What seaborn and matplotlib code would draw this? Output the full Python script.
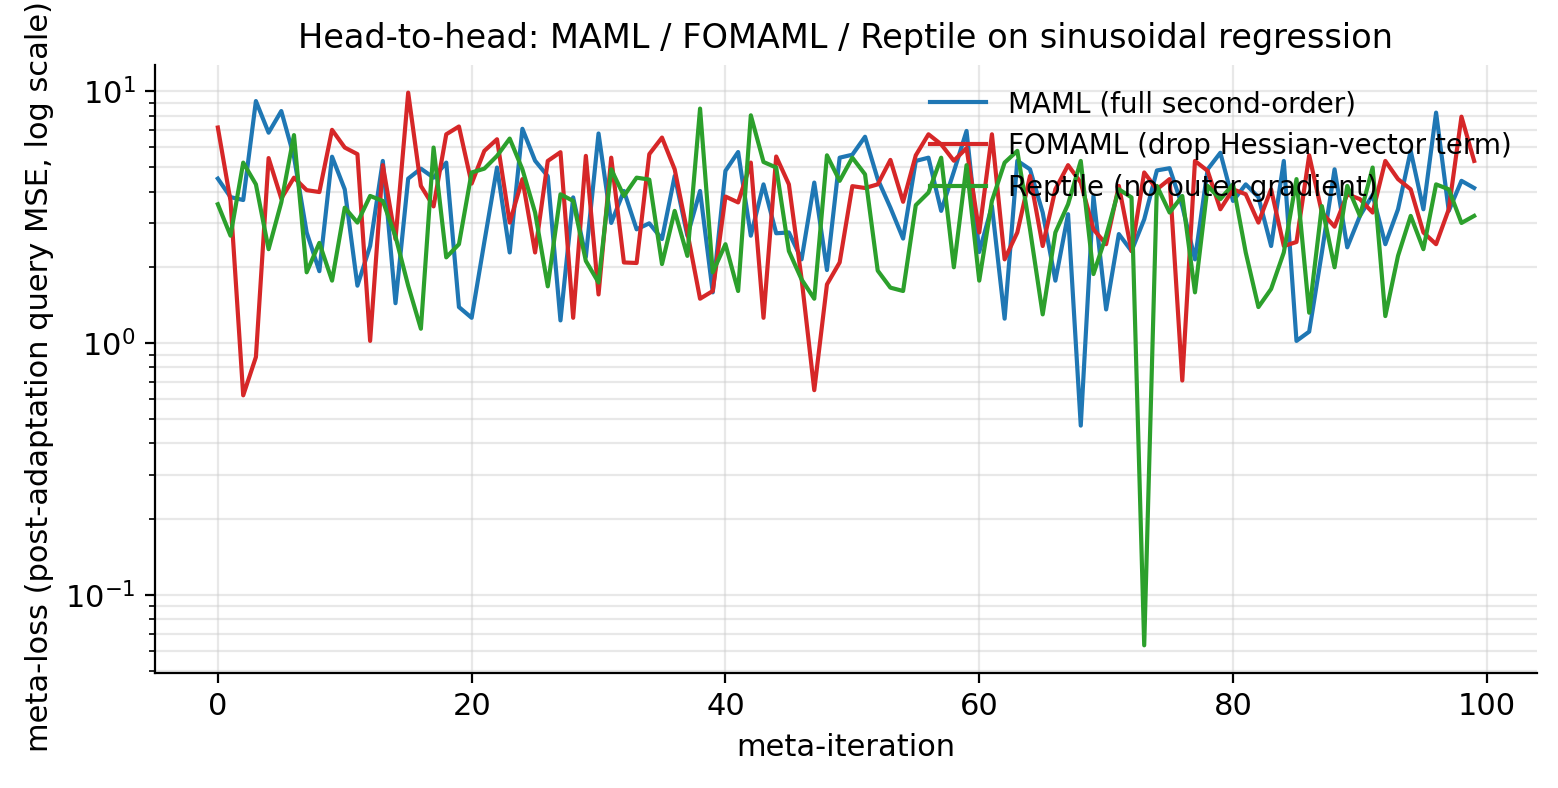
import matplotlib
matplotlib.use("Agg")
import matplotlib.pyplot as plt
import numpy as np
import pandas as pd
import seaborn as sns

# meta-loss per meta-iteration
maml_loss = [4.5, 3.8, 3.7, 9.15, 6.85, 8.35, 5.5, 2.75, 1.93, 5.5,
             4.08, 1.69, 2.43, 5.29, 1.44, 4.5, 4.93, 4.54, 5.21, 1.39,
             1.26, 2.52, 4.98, 2.29, 7.1, 5.3, 4.6, 1.23, 3.79, 2.2,
             6.8, 3.0, 4.02, 2.83, 2.99, 2.59, 4.61, 2.67, 4.02, 1.59,
             4.83, 5.74, 2.67, 4.27, 2.73, 2.75, 2.15, 4.34, 1.95, 5.45,
             5.6, 6.6, 4.48, 3.45, 2.6, 5.29, 5.45, 3.35, 4.8, 6.96,
             2.3, 3.5, 1.25, 5.3, 4.9, 3.3, 1.77, 3.25, 0.47, 3.84,
             1.36, 2.71, 2.32, 3.1, 4.85, 4.95, 3.5, 2.15, 4.9, 5.7,
             3.67, 4.27, 3.8, 2.43, 5.29, 1.02, 1.11, 2.29, 4.9, 2.4,
             3.2, 3.88, 2.47, 3.4, 5.8, 3.4, 8.23, 3.35, 4.41, 4.13]
fomaml_loss = [7.18, 3.67, 0.62, 0.88, 5.43, 3.75, 4.54, 4.05, 3.98, 7.03,
               5.98, 5.63, 1.02, 5.09, 2.59, 9.88, 4.21, 3.49, 6.75, 7.25,
               4.3, 5.8, 6.45, 3.01, 4.48, 2.29, 5.29, 5.73, 1.26, 5.54,
               1.56, 5.45, 2.09, 2.08, 5.63, 6.55, 4.9, 2.75, 1.5, 1.61,
               3.82, 3.62, 5.21, 1.26, 5.51, 4.27, 1.8, 0.65, 1.71, 2.09,
               4.2, 4.13, 4.27, 5.34, 3.64, 5.57, 6.75, 6.16, 5.3, 5.95,
               2.75, 6.75, 2.15, 2.75, 4.61, 2.43, 4.08, 5.09, 4.34, 2.83,
               2.47, 4.21, 2.32, 4.76, 4.08, 4.48, 0.71, 5.29, 4.83, 3.4,
               4.08, 3.9, 3.01, 4.08, 2.43, 2.52, 5.57, 3.3, 2.9, 3.9,
               3.73, 3.3, 5.29, 4.48, 4.08, 2.75, 2.47, 3.4, 7.93, 5.29]
reptile_loss = [3.56, 2.67, 5.21, 4.27, 2.36, 3.62, 6.7, 1.91, 2.5, 1.77,
                3.45, 3.01, 3.84, 3.67, 2.65, 1.69, 1.14, 5.98, 2.19, 2.47,
                4.76, 4.93, 5.54, 6.49, 4.9, 3.3, 1.68, 3.9, 3.67, 2.12,
                1.74, 4.9, 3.84, 4.54, 4.46, 2.06, 3.35, 2.22, 8.54, 1.91,
                2.47, 1.61, 8.03, 5.24, 4.98, 2.32, 1.79, 1.5, 5.57, 4.41,
                5.45, 4.68, 1.94, 1.66, 1.61, 3.53, 3.96, 5.45, 2.0, 5.09,
                1.77, 3.67, 5.21, 5.8, 2.83, 1.3, 2.75, 3.56, 5.29, 1.88,
                2.67, 4.08, 3.79, 0.063, 4.21, 3.3, 3.84, 1.59, 4.21, 3.73,
                4.27, 2.29, 1.39, 1.64, 2.29, 4.48, 1.32, 3.5, 2.0, 4.21,
                3.2, 4.98, 1.28, 2.22, 3.2, 2.36, 4.27, 4.08, 3.0, 3.2]

labels = ['MAML (full second-order)',
          'FOMAML (drop Hessian-vector term)',
          'Reptile (no outer gradient)']
colors = ['#1f77b4', '#d62728', '#2ca02c']

iters = np.arange(len(maml_loss))
df = pd.concat([
    pd.DataFrame({'iter': iters, 'loss': vals, 'method': lab})
    for vals, lab in zip([maml_loss, fomaml_loss, reptile_loss], labels)
])

fig, ax = plt.subplots(figsize=(7.79, 3.94), dpi=200)
fig.subplots_adjust(left=0.0995, right=0.9865, top=0.9175, bottom=0.146)

sns.lineplot(data=df, x='iter', y='loss', hue='method', palette=colors,
             hue_order=labels, linewidth=1.5, ax=ax)
ax.set_yscale('log')

ax.grid(True, which='both', color='#cccccc', alpha=0.45, linewidth=0.8)
ax.set_axisbelow(True)
sns.despine(ax=ax)

ax.set_title('Head-to-head: MAML / FOMAML / Reptile on sinusoidal regression', fontsize=12.1)
ax.set_xlabel('meta-iteration', fontsize=11)
ax.set_ylabel('meta-loss (post-adaptation query MSE, log scale)', fontsize=11)
# nudge the long y label down a little so it stays inside the canvas
ax.yaxis.label.set_y(0.488)
ax.tick_params(labelsize=11)
ax.legend(loc='upper right', frameon=False, fontsize=10)

fig.savefig('out.png', dpi=200)
